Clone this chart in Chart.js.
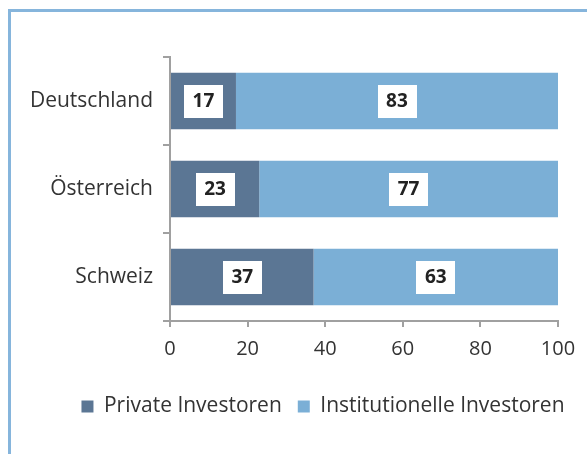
<!DOCTYPE html>
<html>
<head>
<meta charset="utf-8">
<script src="https://cdn.jsdelivr.net/npm/chart.js@4.4.0/dist/chart.umd.min.js"></script>
<style>
  html,body{margin:0;padding:0;background:#fff;}
  #wrap{position:absolute;left:0;top:0;width:587px;height:454px;}
  #frame{position:absolute;left:8px;top:9px;width:600px;height:460px;border-left:3px solid #86b5dc;border-top:3px solid #86b5dc;box-sizing:border-box;}
  canvas{position:absolute;left:0;top:0;}
</style>
</head>
<body>
<div id="wrap">
  <div id="frame"></div>
  <canvas id="c" width="587" height="454"></canvas>
</div>
<script>
const categories = ["Deutschland", "Österreich", "Schweiz"];
const privateValues = [17, 23, 37];
const institutionalValues = [83, 77, 63];
const xTicks = [0, 20, 40, 60, 80, 100];
const seriesNames = ["Private Investoren", "Institutionelle Investoren"];

const FONT = "'Open Sans', sans-serif";

const labelPlugin = {
  id: 'boxLabels',
  afterDatasetsDraw(chart) {
    const ctx = chart.ctx;
    ctx.save();
    ctx.font = "bold 19px " + FONT;
    ctx.textAlign = 'center';
    ctx.textBaseline = 'middle';
    chart.data.datasets.forEach((ds, di) => {
      const meta = chart.getDatasetMeta(di);
      meta.data.forEach((el, i) => {
        const cx = (el.x + el.base) / 2;
        const cy = el.y;
        const txt = String(ds.data[i]);
        const w = ctx.measureText(txt).width + 17;
        const h = 33;
        ctx.fillStyle = '#ffffff';
        ctx.fillRect(Math.round(cx - w / 2), Math.round(cy - h / 2), Math.round(w), h);
        ctx.fillStyle = '#222222';
        ctx.fillText(txt, cx, cy + 1);
      });
    });
    ctx.restore();
  }
};

// The original legend is centred on the (wider) frame, so shift it right.
const legendShift = {
  id: 'legendShift',
  afterLayout(chart) {
    if (chart.legend) {
      chart.legend.left += 39;
      chart.legend.right += 39;
    }
  }
};

new Chart(document.getElementById('c'), {
  type: 'bar',
  data: {
    labels: categories,
    datasets: [
      { label: seriesNames[0], data: privateValues, backgroundColor: '#5b7694', borderWidth: 0, barPercentage: 0.8, categoryPercentage: 0.8 },
      { label: seriesNames[1], data: institutionalValues, backgroundColor: '#7bafd6', borderWidth: 0, barPercentage: 0.8, categoryPercentage: 0.8 }
    ]
  },
  options: {
    indexAxis: 'y',
    responsive: false,
    animation: false,
    devicePixelRatio: 1,
    layout: { padding: { left: 10, right: 29, top: 57, bottom: 27 } },
    plugins: {
      legend: {
        position: 'bottom',
        labels: {
          font: { family: FONT, size: 21 },
          color: '#333333',
          boxWidth: 12,
          boxHeight: 12,
          padding: 16
        }
      },
      tooltip: { enabled: false }
    },
    scales: {
      x: {
        stacked: true,
        min: 0,
        max: 100,
        afterBuildTicks: (scale) => { scale.ticks = xTicks.map(v => ({ value: v })); },
        afterFit: (scale) => { scale.height = 59; },
        grid: { display: true, drawOnChartArea: false, drawTicks: true, tickLength: 6, color: '#a0a0a0', lineWidth: 2 },
        border: { display: true, color: '#a0a0a0', width: 2 },
        ticks: { font: { family: FONT, size: 20 }, color: '#333333', padding: 10 }
      },
      y: {
        stacked: true,
        afterFit: (scale) => { scale.width = 160; },
        grid: { display: true, offset: true, drawOnChartArea: false, drawTicks: true, tickLength: 7, color: '#a0a0a0', lineWidth: 2 },
        border: { display: true, color: '#a0a0a0', width: 2 },
        ticks: { font: { family: FONT, size: 21 }, color: '#333333', padding: 10 }
      }
    }
  },
  plugins: [labelPlugin, legendShift]
});
</script>
</body>
</html>
